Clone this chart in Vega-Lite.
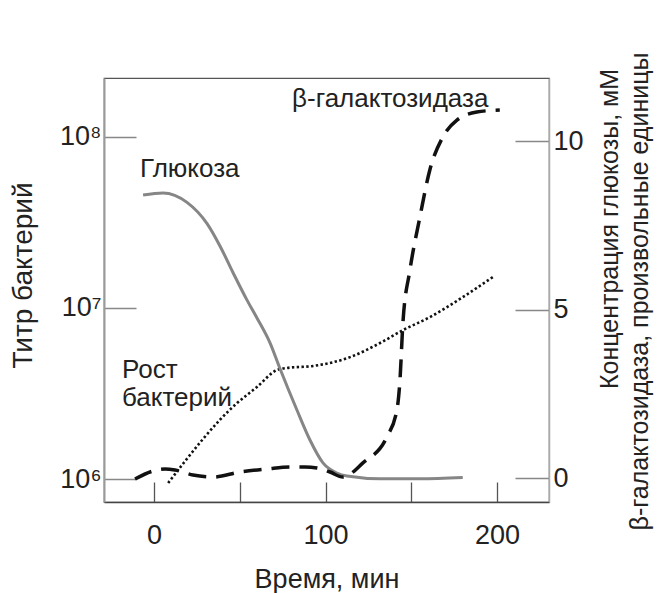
{
  "$schema": "https://vega.github.io/schema/vega-lite/v6.json",
  "width": 445,
  "height": 424,
  "autosize": {"type": "none"},
  "padding": {"left": 104, "top": 78, "right": 113, "bottom": 91},
  "config": {
    "font": "Liberation Sans",
    "view": {"stroke": "#555555", "strokeWidth": 1.2},
    "axis": {"grid": false, "labelColor": "#222222", "titleColor": "#222222", "titleFontWeight": "normal", "labelFontSize": 27, "titleFontSize": 27, "labelFont": "Liberation Sans", "titleFont": "Liberation Sans"}
  },
  "datasets": {
    "growth": [
      {"t": 8.2, "titer": 948000},
      {"t": 48.4, "titer": 2780000},
      {"t": 60.0, "titer": 3450000},
      {"t": 71.7, "titer": 4340000},
      {"t": 77.5, "titer": 4460000},
      {"t": 92.7, "titer": 4580000},
      {"t": 114.3, "titer": 5160000},
      {"t": 131.8, "titer": 6240000},
      {"t": 145.2, "titer": 7430000},
      {"t": 160.9, "titer": 8850000},
      {"t": 180.2, "titer": 11600000},
      {"t": 197.7, "titer": 15200000}
    ],
    "glucose": [
      {"t": -6.4, "v": 8.40},
      {"t": 5.2, "v": 8.46},
      {"t": 19.2, "v": 8.18},
      {"t": 30.9, "v": 7.55},
      {"t": 38.5, "v": 6.88},
      {"t": 46.0, "v": 6.10},
      {"t": 54.2, "v": 5.28},
      {"t": 60.0, "v": 4.75},
      {"t": 67.6, "v": 4.01},
      {"t": 73.4, "v": 3.25},
      {"t": 83.3, "v": 2.02},
      {"t": 90.9, "v": 1.13},
      {"t": 98.5, "v": 0.45},
      {"t": 106.6, "v": 0.15},
      {"t": 112.5, "v": 0.06},
      {"t": 131.7, "v": -0.02},
      {"t": 155.0, "v": -0.02},
      {"t": 180.0, "v": 0.02}
    ],
    "bgal": [
      {"t": -11.1, "v": -0.03},
      {"t": -0.6, "v": 0.21},
      {"t": 6.4, "v": 0.27},
      {"t": 12.2, "v": 0.24},
      {"t": 22.7, "v": 0.09},
      {"t": 34.4, "v": 0.03},
      {"t": 50.1, "v": 0.18},
      {"t": 65.9, "v": 0.27},
      {"t": 79.3, "v": 0.33},
      {"t": 88.0, "v": 0.33},
      {"t": 95.0, "v": 0.30},
      {"t": 102.6, "v": 0.18},
      {"t": 110.1, "v": 0.03},
      {"t": 121.8, "v": 0.45},
      {"t": 135.8, "v": 1.22},
      {"t": 141.6, "v": 2.02},
      {"t": 143.4, "v": 2.91},
      {"t": 145.1, "v": 4.60},
      {"t": 149.2, "v": 6.17},
      {"t": 155.0, "v": 7.74},
      {"t": 160.8, "v": 9.14},
      {"t": 168.4, "v": 10.12},
      {"t": 176.6, "v": 10.62},
      {"t": 188.2, "v": 10.86},
      {"t": 201.6, "v": 10.92}
    ],
    "notes": [
      {"t": 80.5, "v": 11.01, "label": "β-галактозидаза"},
      {"t": -8.2, "v": 8.93, "label": "Глюкоза"},
      {"t": -18.7, "v": 2.97, "label": "Рост"},
      {"t": -18.7, "v": 2.14, "label": "бактерий"}
    ]
  },
  "layer": [
    {
      "data": {"name": "growth"},
      "mark": {"type": "line", "color": "#111111", "strokeWidth": 2.6, "strokeDash": [2.4, 2.4], "interpolate": "monotone"},
      "encoding": {
        "x": {
          "field": "t", "type": "quantitative",
          "scale": {"domain": [-29.2, 230.3], "nice": false, "zero": false},
          "axis": {
            "title": "Время, мин",
            "values": [0, 50, 100, 150, 200],
            "labelExpr": "datum.value % 100 == 0 ? datum.label : ''",
            "tickSize": -20, "tickColor": "#555555", "tickWidth": 1.3,
            "domainColor": "#444444", "domainWidth": 1.5,
            "labelPadding": 40, "titlePadding": 18
          }
        },
        "y": {
          "field": "titer", "type": "quantitative",
          "scale": {"type": "log", "domain": [734000, 221000000], "nice": false},
          "axis": {
            "orient": "left",
            "title": "Титр бактерий",
            "titleFontSize": 28,
            "values": [1000000, 10000000, 100000000],
            "labelExpr": "'10' + (datum.value > 50000000 ? '⁸' : datum.value > 5000000 ? '⁷' : '⁶')",
            "tickSize": -32, "tickColor": "#888888", "tickWidth": 1.3,
            "domainColor": "#9a9a9a", "domainWidth": 2,
            "labelPadding": 35, "labelBaseline": "middle",
            "titlePadding": 22, "titleY": 197
          }
        }
      }
    },
    {
      "layer": [
        {
          "data": {"name": "glucose"},
          "mark": {"type": "line", "color": "#868686", "strokeWidth": 3, "interpolate": "monotone"},
          "encoding": {
            "x": {"field": "t", "type": "quantitative", "scale": {"domain": [-29.2, 230.3], "nice": false, "zero": false}},
            "y": {
              "field": "v", "type": "quantitative",
              "scale": {"domain": [-0.71, 11.87], "nice": false, "zero": false},
              "axis": {
                "orient": "right",
                "title": ["\u200b\u00a0\u00a0\u00a0\u00a0\u00a0\u00a0\u00a0\u00a0\u00a0\u00a0\u00a0\u00a0\u00a0\u00a0\u00a0\u00a0\u00a0\u00a0Концентрация глюкозы, мМ", "β-галактозидаза, произвольные единицы"],
                "titleFontSize": 25,
                "titleAngle": 270,
                "titleBaseline": "top",
                "titleLineHeight": 30,
                "titleY": 213,
                "titlePadding": -16,
                "values": [0, 5, 10],
                "tickSize": -34, "tickColor": "#888888", "tickWidth": 1.3,
                "domainColor": "#aaaaaa", "domainWidth": 1.5,
                "labelPadding": 38, "labelAlign": "left", "labelBaseline": "middle"
              }
            }
          }
        },
        {
          "data": {"name": "bgal"},
          "mark": {"type": "line", "color": "#111111", "strokeWidth": 3.5, "strokeDash": [18, 10], "interpolate": "monotone"},
          "encoding": {
            "x": {"field": "t", "type": "quantitative"},
            "y": {"field": "v", "type": "quantitative"}
          }
        },
        {
          "data": {"name": "notes"},
          "mark": {"type": "text", "fontSize": 26, "color": "#222222", "baseline": "alphabetic", "align": "left", "font": "Liberation Sans"},
          "encoding": {
            "x": {"field": "t", "type": "quantitative"},
            "y": {"field": "v", "type": "quantitative"},
            "text": {"field": "label"}
          }
        }
      ]
    }
  ],
  "resolve": {"scale": {"y": "independent"}}
}
